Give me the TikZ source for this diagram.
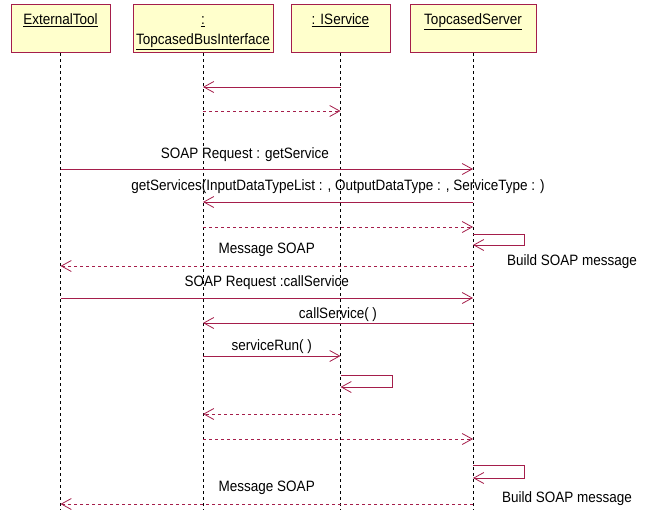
\documentclass[tikz,border=0pt]{standalone}
\usepackage{fontspec}
\setmainfont{Liberation Sans}[FakeStretch=0.9]
\usepackage{tikz}
\usetikzlibrary{arrows.meta}
\definecolor{umlred}{RGB}{165,30,75}
\definecolor{umlfill}{RGB}{255,255,204}
\tikzstyle{object} = [rectangle, draw=umlred, fill=umlfill, line width=1pt, minimum height=48pt, inner sep=0pt, align=center, anchor=north, font=\fontsize{15}{20}\selectfont]
\tikzstyle{lifeline} = [black, line width=0.8pt, dash pattern=on 3pt off 3pt]
\tikzstyle{call} = [umlred, line width=1pt, -{Straight Barb[length=10pt,width=11pt,line width=0.8pt]}]
\tikzstyle{reply} = [call, dash pattern=on 3pt off 3pt]
\tikzstyle{lbl} = [inner sep=0pt, text=black, font=\fontsize{15}{20}\selectfont]
\newcommand{\tophead}{\rule{0pt}{18pt}}

\begin{document}
\begin{tikzpicture}[x=1pt, y=-1pt]
\useasboundingbox (0,0) rectangle (650,515);

\node (ext) [object, minimum width=99pt] at (60.5,4) {\tophead\underline{ExternalTool}\\ \strut};
\node (bus) [object, minimum width=140pt] at (203,4) {\tophead\underline{:}\\ \strut\underline{TopcasedBusInterface}};
\node (isvc) [object, minimum width=99pt] at (340.5,4) {\tophead\underline{: IService}\\ \strut};
\node (srv) [object, minimum width=126pt] at (473,4) {\tophead\underline{TopcasedServer}\\ \strut};

\draw [lifeline] (ext.south) -- (ext.south |- 0,510);
\draw [lifeline] (bus.south) -- (bus.south |- 0,510);
\draw [lifeline] (isvc.south) -- (isvc.south |- 0,510);
\draw [lifeline] (srv.south) -- (srv.south |- 0,510);

\draw [call] (isvc.south |- 0,87) -- (bus.south |- 0,87);
\draw [reply] (bus.south |- 0,111) -- (isvc.south |- 0,111);

\draw [call] (ext.south |- 0,169) -- node[lbl, pos=0.447, yshift=14pt] {SOAP Request : getService} (srv.south |- 0,169);
\draw [call] (srv.south |- 0,202) -- node[lbl, yshift=15pt] {getServices(InputDataTypeList : , OutputDataType : , ServiceType : )} (bus.south |- 0,202);
\draw [reply] (bus.south |- 0,227) -- (srv.south |- 0,227);
\draw [call] (srv.south |- 0,234) -- (524,234) -- (524,245) -- (srv.south |- 0,245);
\node (build1) [lbl] at (572,262) {Build SOAP message};
\draw [reply] (srv.south |- 0,266) -- node[lbl, yshift=16pt] {Message SOAP} (ext.south |- 0,266);

\draw [call] (ext.south |- 0,298) -- node[lbl, yshift=15pt] {SOAP Request :callService} (srv.south |- 0,298);
\draw [call] (srv.south |- 0,323) -- node[lbl, yshift=8pt] {callService( )} (bus.south |- 0,323);
\draw [call] (bus.south |- 0,356) -- node[lbl, yshift=9pt] {serviceRun( )} (isvc.south |- 0,356);
\draw [call] (isvc.south |- 0,375) -- (392,375) -- (392,387) -- (isvc.south |- 0,387);
\draw [reply] (isvc.south |- 0,414) -- (bus.south |- 0,414);
\draw [reply] (bus.south |- 0,439) -- (srv.south |- 0,439);
\draw [call] (srv.south |- 0,465) -- (524,465) -- (524,478) -- (srv.south |- 0,478);
\node (build2) [lbl] at (567,499) {Build SOAP message};
\draw [reply] (srv.south |- 0,504) -- node[lbl, yshift=16pt] {Message SOAP} (ext.south |- 0,504);
\end{tikzpicture}
\end{document}
